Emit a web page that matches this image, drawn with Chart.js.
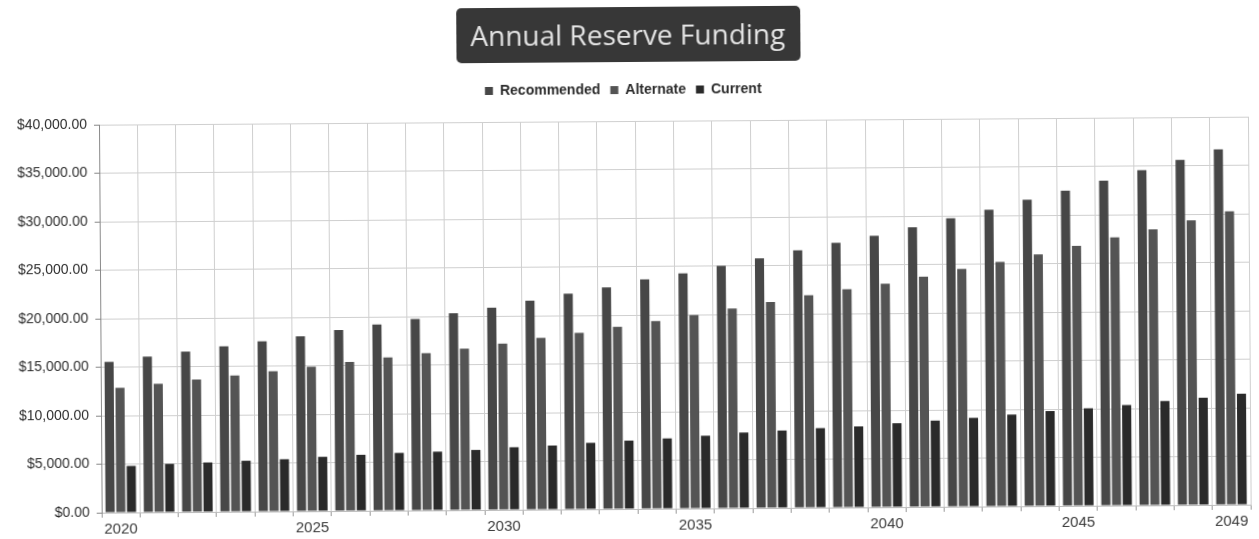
<!DOCTYPE html>
<html>
<head>
<meta charset="utf-8">
<title>Annual Reserve Funding</title>
<script src="https://cdn.jsdelivr.net/npm/chart.js@4.4.1/dist/chart.umd.min.js"></script>
<style>
  html, body { margin: 0; padding: 0; background: #fff; overflow: hidden; }
  #frame {
    position: relative; width: 1259px; height: 539px;
    transform: rotate(-0.4deg); transform-origin: 50% 50%;
  }
  #chart { position: absolute; left: 0; top: 0; width: 1259px; height: 539px; }
  #title {
    position: absolute; left: 50%; top: 7px; transform: translateX(-50%);
    width: 344px; height: 55px; line-height: 55px;
    background: #373737; border-radius: 5px;
    color: #e4e4e4; font-family: "Open Sans", sans-serif; font-size: 28px;
    text-align: center; white-space: nowrap;
  }
</style>
</head>
<body>
<div id="frame">
  <canvas id="chart" width="1259" height="539"></canvas>
  <div id="title">Annual Reserve Funding</div>
</div>
<script>
// Funding years
const years = [
  '2020', '2021', '2022', '2023', '2024', '2025', '2026', '2027', '2028', '2029',
  '2030', '2031', '2032', '2033', '2034', '2035', '2036', '2037', '2038', '2039',
  '2040', '2041', '2042', '2043', '2044', '2045', '2046', '2047', '2048', '2049'
];

// Year labels printed under the axis
const yearLabels = ['2020', '2025', '2030', '2035', '2040', '2045', '2049'];

// Annual contributions ($)
const recommended = [
  15550, 16050, 16550, 17050, 17550, 18050, 18650, 19200, 19750, 20300,
  20850, 21550, 22250, 22850, 23650, 24250, 25000, 25750, 26550, 27300,
  28000, 28850, 29750, 30600, 31600, 32500, 33500, 34550, 35600, 36650
];
const alternate = [
  12850, 13250, 13650, 14050, 14450, 14900, 15350, 15800, 16200, 16650,
  17150, 17700, 18200, 18800, 19350, 19950, 20600, 21250, 21900, 22500,
  23050, 23750, 24500, 25200, 25950, 26800, 27650, 28450, 29350, 30250
];
const current = [
  4800, 4980, 5100, 5250, 5380, 5600, 5780, 5950, 6050, 6200,
  6450, 6600, 6850, 7050, 7250, 7500, 7800, 7980, 8200, 8350,
  8650, 8900, 9150, 9450, 9800, 10050, 10350, 10750, 11050, 11450
];

// Value axis range and spacing ($)
const yMin = 0;
const yMax = 40000;
const yStep = 5000;

const money = v => '$' + Number(v).toLocaleString('en-US', { minimumFractionDigits: 2, maximumFractionDigits: 2 });

// Extra room between the legend row and the plot
const legendGap = {
  id: 'legendGap',
  beforeInit(chart) {
    const fit = chart.legend.fit;
    chart.legend.fit = function () {
      fit.call(this);
      this.height += 14;
    };
  }
};

new Chart(document.getElementById('chart'), {
  type: 'bar',
  data: {
    labels: years,
    datasets: [
      { label: 'Recommended', data: recommended, backgroundColor: '#474747' },
      { label: 'Alternate',   data: alternate,   backgroundColor: '#545454' },
      { label: 'Current',     data: current,     backgroundColor: '#2a2a2a' }
    ]
  },
  plugins: [legendGap],
  options: {
    responsive: false,
    animation: false,
    categoryPercentage: 0.84,
    barPercentage: 0.85,
    layout: { padding: { top: 73, right: 10, bottom: 1, left: 0 } },
    plugins: {
      title: { display: false },
      tooltip: { enabled: false },
      legend: {
        position: 'top',
        labels: {
          boxWidth: 8, boxHeight: 8, padding: 10,
          color: '#2b2b2b',
          font: { family: '"Liberation Sans", Arial, sans-serif', size: 14, weight: 'bold' }
        }
      }
    },
    scales: {
      x: {
        grid: { color: '#cfcfcf', lineWidth: 1, tickLength: 5, tickColor: '#999', offset: true },
        border: { color: '#bdbdbd' },
        ticks: {
          autoSkip: false, maxRotation: 0, padding: 3,
          color: '#3a3a3a',
          font: { family: '"Liberation Sans", Arial, sans-serif', size: 15 },
          callback: function (value) {
            const lbl = this.getLabelForValue(value);
            return yearLabels.includes(lbl) ? lbl : '';
          }
        }
      },
      y: {
        min: yMin, max: yMax,
        afterFit: scale => { scale.width = 100; },
        grid: { color: '#cfcfcf', lineWidth: 1, tickLength: 5, tickColor: '#888' },
        border: { color: '#8a8a8a' },
        ticks: {
          stepSize: yStep, padding: 7,
          color: '#2e2e2e',
          font: { family: '"Liberation Sans", Arial, sans-serif', size: 14 },
          callback: v => money(v)
        }
      }
    }
  }
});
</script>
</body>
</html>
